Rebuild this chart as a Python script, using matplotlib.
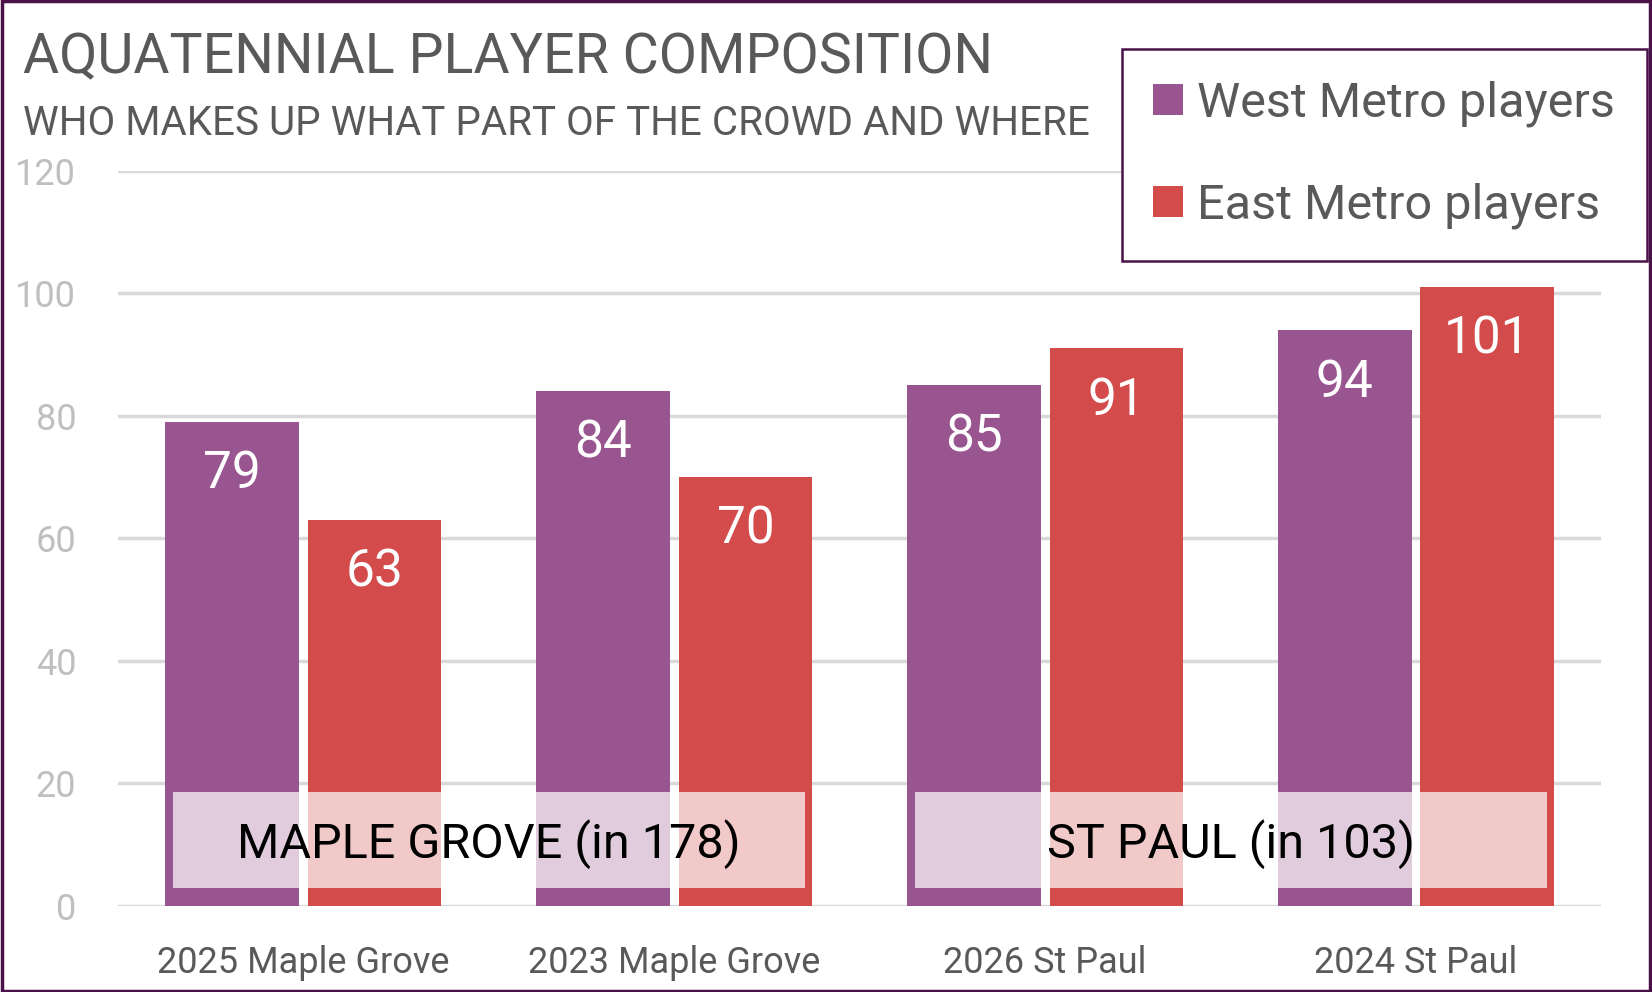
import numpy as np
import matplotlib.pyplot as plt
from matplotlib.patches import Rectangle

plt.rcParams['font.family'] = ['Roboto', 'DejaVu Sans']

# dados
categorias = ['2025 Maple Grove', '2023 Maple Grove', '2026 St Paul', '2024 St Paul']
west = [79, 84, 85, 94]
east = [63, 70, 91, 101]
series_nomes = ['West Metro players', 'East Metro players']
grupos = ['MAPLE GROVE (in 178)', 'ST PAUL (in 103)']
yticks = [0, 20, 40, 60, 80, 100, 120]

cor_west = '#985590'
cor_east = '#d44b4c'
cinza = '#595959'
borda = '#4a1248'

fig = plt.figure(figsize=(16.52, 9.92), dpi=100)
ax = fig.add_axes([0.0714, 0.087, 0.898, 0.741])

x = np.arange(len(categorias))
larg = 0.36
desl = 0.192

ax.bar(x - desl, west, larg, color=cor_west, zorder=2, label=series_nomes[0])
ax.bar(x + desl, east, larg, color=cor_east, zorder=2, label=series_nomes[1])

# rótulos dos valores
for xi, v in zip(x - desl, west):
    ax.text(xi, v - 8.6, str(v), ha='center', va='center', color='white', fontsize=37, zorder=4)
for xi, v in zip(x + desl, east):
    ax.text(xi, v - 8.6, str(v), ha='center', va='center', color='white', fontsize=37, zorder=4)

# caixas dos grupos
for i, nome in enumerate(grupos):
    x0 = x[2 * i] - desl - larg / 2 + 0.02
    x1 = x[2 * i + 1] + desl + larg / 2 - 0.02
    ax.add_patch(Rectangle((x0, 2.9), x1 - x0, 15.7, facecolor='white', alpha=0.7,
                           edgecolor='none', zorder=3))
    ax.text((x0 + x1) / 2, 10.0, nome, ha='center', va='center', color='black',
            fontsize=35, zorder=5)

ax.set_xlim(-0.5, 3.5)
ax.set_ylim(0, 120)
ax.set_yticks(yticks)
ax.set_xticks(x)
ax.set_xticklabels(categorias, fontsize=26, color=cinza)
ax.tick_params(axis='y', labelsize=26, labelcolor='#bfbfbf', length=0, pad=30)
ax.tick_params(axis='x', length=0, pad=28)
ax.grid(axis='y', color='#d9d9d9', linewidth=2.5, zorder=1)
for s in ax.spines.values():
    s.set_visible(False)

fig.text(0.014, 0.926, 'AQUATENNIAL PLAYER COMPOSITION', fontsize=40, color=cinza, va='baseline')
fig.text(0.014, 0.864, 'WHO MAKES UP WHAT PART OF THE CROWD AND WHERE', fontsize=29, color=cinza,
         va='baseline')

leg = fig.legend(loc='upper right', bbox_to_anchor=(0.9968, 0.951), fontsize=35,
                 labelcolor=cinza, frameon=True, fancybox=False, framealpha=1,
                 handlelength=0.6, handleheight=0.6, handletextpad=0.3, labelspacing=1.15,
                 borderpad=0.65, borderaxespad=0)
leg.get_frame().set_edgecolor(borda)
leg.get_frame().set_linewidth(1.8)

fig.patches.append(Rectangle((0.001, 0.001), 0.998, 0.998, transform=fig.transFigure,
                             fill=False, edgecolor=borda, linewidth=2.5))

plt.savefig('out.png', dpi=100)
